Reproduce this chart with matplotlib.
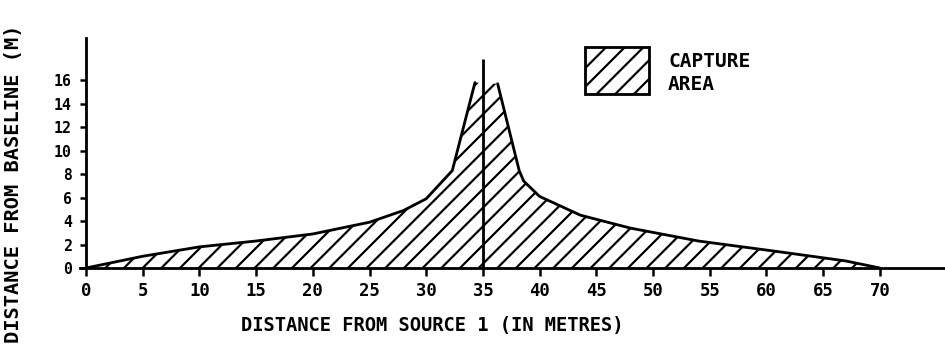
import numpy as np
import matplotlib
matplotlib.use("Agg")
import matplotlib.pyplot as plt
from matplotlib.patches import Rectangle

# capture area outline
left_x = [0, 5, 10, 15, 20, 25, 28, 30, 32.3, 34.3]
left_y = [0, 1.0, 1.8, 2.3, 2.9, 3.9, 4.9, 5.9, 8.3, 15.8]
right_x = [36.3, 38.2, 38.6, 40, 43.6, 48, 54, 61, 67, 70]
right_y = [15.7, 8.3, 7.4, 6.1, 4.5, 3.4, 2.3, 1.4, 0.6, 0]
source_x = 35
source_top = 17.8

x_ticks = list(range(0, 71, 5))
y_ticks = list(range(0, 17, 2))

plt.rcParams['font.family'] = ['DejaVu Sans Mono']
plt.rcParams['font.weight'] = 'bold'
plt.rcParams['hatch.linewidth'] = 1.4

dpi = 112.5
fig = plt.figure(figsize=(945 / dpi, 350 / dpi), dpi=dpi)
ax = fig.add_axes([80 / 945, 82 / 350, 865 / 945, 230 / 350])

poly_x = np.concatenate([left_x, right_x])
poly_y = np.concatenate([left_y, right_y])
ax.fill(poly_x, poly_y, facecolor='white', edgecolor='black', hatch='//', linewidth=0)
ax.plot(left_x, left_y, color='black', lw=1.8, solid_capstyle='round')
ax.plot(right_x, right_y, color='black', lw=1.8, solid_capstyle='round')
ax.vlines(source_x, 0, source_top, color='black', lw=1.8)

ax.set_xlim(-0.53, 75.75)
ax.set_ylim(0, 19.6)
ax.spines['top'].set_visible(False)
ax.spines['right'].set_visible(False)
ax.spines['left'].set_position(('data', 0))
for s in ['left', 'bottom']:
    ax.spines[s].set_linewidth(1.8)

ax.set_xticks(x_ticks)
ax.set_yticks(y_ticks)
ax.tick_params(axis='x', length=5, width=1.6, pad=4, labelsize=11)
ax.tick_params(axis='y', length=4, width=1.6, pad=5, labelsize=9.5)

fig.text(432 / 945, 1 - 325 / 350, "DISTANCE FROM SOURCE 1 (IN METRES)",
         ha='center', va='center', fontsize=12, fontweight='bold')
fig.text(14 / 945, 1 - 184 / 350, "DISTANCE FROM BASELINE (M)",
         ha='center', va='center', rotation=90, fontsize=13, fontweight='bold')

# legend box drawn by hand
key = Rectangle((585 / 945, 1 - 94 / 350), 64 / 945, 47 / 350, transform=fig.transFigure,
                facecolor='white', edgecolor='black', hatch='//', lw=1.8)
fig.patches.append(key)
fig.text(668 / 945, 1 - 73 / 350, "CAPTURE\nAREA", ha='left', va='center',
         fontsize=12.5, fontweight='bold', linespacing=1.25)

fig.savefig("out.png", dpi=dpi)
